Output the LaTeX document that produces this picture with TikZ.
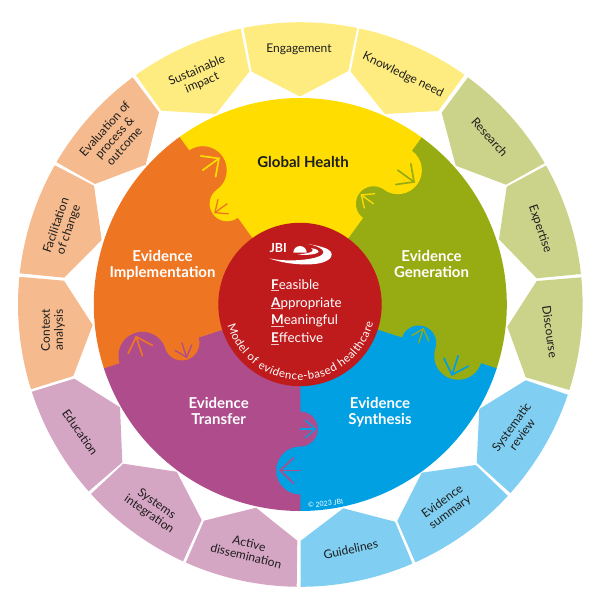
\documentclass[tikz,border=0pt]{standalone}
\usepackage{fontspec}
\setmainfont{Lato}
\usetikzlibrary{calc,decorations.text}
\definecolor{pYellow}{HTML}{FFEC80}
\definecolor{pOrange}{HTML}{F6BA8F}
\definecolor{pOlive}{HTML}{CBD38A}
\definecolor{pBlue}{HTML}{80CFF2}
\definecolor{pPink}{HTML}{D5A5C4}
\definecolor{dYellow}{HTML}{FFDD00}
\definecolor{dOrange}{HTML}{EE7623}
\definecolor{dOlive}{HTML}{97AB13}
\definecolor{dBlue}{HTML}{00A0E3}
\definecolor{dPink}{HTML}{AE4C8C}
\definecolor{dRed}{HTML}{BF1A1C}
\definecolor{ink}{HTML}{1D1D1B}
\tikzset{
  petaltext/.style={text=ink,align=center,font=\fontsize{12}{13}\selectfont,inner sep=0pt},
  disctext/.style={text=white,align=center,font=\bfseries\fontsize{15}{16}\selectfont,inner sep=0pt,anchor=base},
  famtext/.style={text=white,font=\fontsize{13.4}{15}\selectfont,inner sep=0pt,anchor=base west},
  bigarrow/.style={line width=1.7pt,line cap=round,line join=miter},
  smallarrow/.style={line width=1.3pt,line cap=round,line join=miter}
}
\newcommand\petal[6]{%
  \pgfmathsetmacro\sa{atan2(#3-304.5,#2-300.3)}%
  \pgfmathsetmacro\ea{atan2(#5-304.5,#4-300.3)}%
  \pgfmathsetmacro\dd{\ea-\sa}%
  \pgfmathsetmacro\ea{\dd>180 ? \ea-360 : (\dd<-180 ? \ea+360 : \ea)}%
  \fill[#1] ($(300.3,304.5)+(\sa:282.3)$) arc[start angle=\sa,end angle=\ea,radius=282.3] #6 -- cycle;
}
\newcommand\discwedge[2]{%
  \fill[#2] (0,0) -- (#1:206.5) arc[start angle=#1,end angle=#1+72.2,radius=206.5] -- cycle;
}
\newcommand\joint[3]{%
  \begin{scope}[rotate=#1]
    \fill[#2] (166,0) circle[radius=24];
    \fill[#3] (124.5,0) circle[radius=17.5];
    \draw[bigarrow,#3] (166,0) -- (166,20);
    \draw[bigarrow,#3] (178.8,6.7) -- (166,20) -- (153.2,6.7);
    \draw[smallarrow,#2] (124.5,0) -- (124.5,-15);
    \draw[smallarrow,#2] (133.3,-5) -- (124.5,-15) -- (115.7,-5);
  \end{scope}
}
\newcommand\ulet[1]{\setbox0\hbox{\bfseries #1}\rlap{\textcolor{white!75!dRed}{\rule[-2.2pt]{\wd0}{0.9pt}}}\box0 }
\begin{document}
\begin{tikzpicture}[x=1pt,y=1pt]
\useasboundingbox (0,-601) rectangle (601,0);
\begin{scope}[yscale=-1]
  % outer petals
  \petal{pYellow}{135.7}{75}{240.7}{28.7}{-- (249.3,71.7) -- (216,114) -- (161.3,110.7)}
  \petal{pOrange}{132.7}{77.3}{56.7}{162.3}{-- (95,184) -- (145.7,164.7) -- (159,112.3)}
  \petal{pOrange}{54.3}{165}{20}{273.3}{-- (64.3,277.7) -- (101.7,240) -- (94,185.7)}
  \petal{pOrange}{18.3}{276.7}{30.7}{389.3}{-- (73.3,376) -- (92.7,325) -- (64,280.7)}
  \petal{pPink}{32}{391.7}{89}{491}{-- (122.3,462.3) -- (120,407.3) -- (74.3,378.7)}
  \petal{pPink}{91.7}{493.3}{183.3}{560.7}{-- (201.7,520) -- (176.7,471.7) -- (123.3,463.7)}
  \petal{pPink}{186}{562.3}{296.7}{586.7}{-- (297.3,540.7) -- (256,507.7) -- (204,520.7)}
  \petal{pBlue}{300.7}{586.7}{412.3}{563.3}{-- (395,521.7) -- (343.3,508.3) -- (300.7,540.7)}
  \petal{pBlue}{415}{561.7}{507.7}{495.7}{-- (475.7,465) -- (421.7,472.7) -- (397.3,521)}
  \petal{pBlue}{510}{492.7}{567.7}{394.7}{-- (525.7,380.3) -- (479.3,409) -- (476.7,462.7)}
  \petal{pOlive}{569.3}{390}{581.7}{277.3}{-- (536.7,281) -- (507.3,326.7) -- (525.7,377.3)}
  \petal{pOlive}{581}{274}{545.7}{165.7}{-- (506.7,186.7) -- (499,239.3) -- (536.7,278.3)}
  \petal{pOlive}{544.3}{163.3}{467.7}{77.7}{-- (441.7,112.7) -- (455.7,165.7) -- (506,184.7)}
  \petal{pYellow}{464.3}{75}{359.3}{28.3}{-- (350.7,71.7) -- (385,114) -- (438.3,111)}
  \petal{pYellow}{357.3}{27.3}{243.3}{27.3}{-- (251.7,71.7) -- (300,96.5) -- (348.3,71)}
  % disc
  \begin{scope}[shift={(300.3,304.5)}]
    \discwedge{-126}{dYellow}
    \discwedge{-54}{dOlive}
    \discwedge{18}{dBlue}
    \discwedge{90}{dPink}
    \discwedge{162}{dOrange}
    \joint{-126}{dOrange}{dYellow}
    \joint{-54}{dYellow}{dOlive}
    \joint{18}{dOlive}{dBlue}
    \joint{90}{dBlue}{dPink}
    \joint{162}{dPink}{dOrange}
  \end{scope}
  \fill[dRed] (300,304.5) circle[radius=81.7];
  % logo
  \fill[white] (293.3,252.7) arc[start angle=180,end angle=360,radius=6.7] -- cycle;
  \fill[white] (269.3,258.3) .. controls (285,264.5) and (312,266.5) .. (324,262) .. controls (335,258) and (334,250) .. (322,247) .. controls (317,245.5) and (312,244.7) .. (308,244) .. controls (321,246.5) and (328,252) .. (320,256) .. controls (310,260.5) and (285,262) .. (269.3,258.3) -- cycle;
  \fill[white] (298,254.5) .. controls (306,255.5) and (318,254.5) .. (318.5,251.5) .. controls (318,249.5) and (314,248.5) .. (311,248) .. controls (315,250) and (314,253) .. (298,254.5) -- cycle;
  % labels
  \node[petaltext,rotate=23] (sustain) at (199.5,77) {Sustainable\\impact};
  \node[petaltext] (engage) at (299,49) {Engagement};
  \node[petaltext,rotate=-26] (knowledge) at (403,75) {Knowledge need};
  \node[petaltext,rotate=-48] (research) at (489.7,137) {Research};
  \node[petaltext,rotate=-71] (expertise) at (540,228.7) {Expertise};
  \node[petaltext,rotate=-82] (discourse) at (550,332) {Discourse};
  \node[petaltext,rotate=54] (systematic) at (516.7,430.7) {Systematic\\review};
  \node[petaltext,rotate=36] (summary) at (446.3,507.3) {Evidence\\summary};
  \node[petaltext,rotate=12] (guidelines) at (350.7,549.3) {Guidelines};
  \node[petaltext,rotate=-14] (active) at (247.7,549.7) {Active\\dissemination};
  \node[petaltext,rotate=-35] (systems) at (152.7,509.3) {Systems\\integration};
  \node[petaltext,rotate=-55] (education) at (80.3,432.3) {Education};
  \node[petaltext,rotate=90] (context) at (53,330) {Context\\analysis};
  \node[petaltext,rotate=71] (facilitation) at (62.7,227.7) {Facilitation\\of change};
  \node[petaltext,rotate=48] (evaluation) at (114.3,137.3) {Evaluation of\\process \&\\outcome};
  \node[disctext,text=ink] (global) at (303,167.5) {Global Health};
  \node[disctext] (impl) at (162.5,277) {Evidence\\Implementation};
  \node[disctext] (gen) at (431.5,277) {Evidence\\Generation};
  \node[disctext] (transfer) at (218.7,424.5) {Evidence\\Transfer};
  \node[disctext] (synth) at (380,424.5) {Evidence\\Synthesis};
  \node[text=white,font=\bfseries\fontsize{12.5}{14}\selectfont,inner sep=0pt,anchor=base west] (jbi) at (269.3,252.3) {JBI};
  \node[famtext] (fea) at (271,289) {\ulet{F}easible};
  \node[famtext] (app) at (271,307) {\ulet{A}ppropriate};
  \node[famtext] (mea) at (271,324.7) {\ulet{M}eaningful};
  \node[famtext] (eff) at (271,342.3) {\ulet{E}ffective};
  \node[text=white,font=\fontsize{7}{8}\selectfont,inner sep=0pt,rotate=6] (copy) at (325.5,503.5) {© 2023 JBI};
\end{scope}
\path[postaction={decorate,decoration={text along path,text align={fit to path},text color=white,
  text={|\fontsize{11.4}{13}\selectfont|Model of evidence-based healthcare}}}]
  (300,-304.5)++(196:75.5) arc[start angle=196,end angle=346,radius=75.5];
\end{tikzpicture}
\end{document}
